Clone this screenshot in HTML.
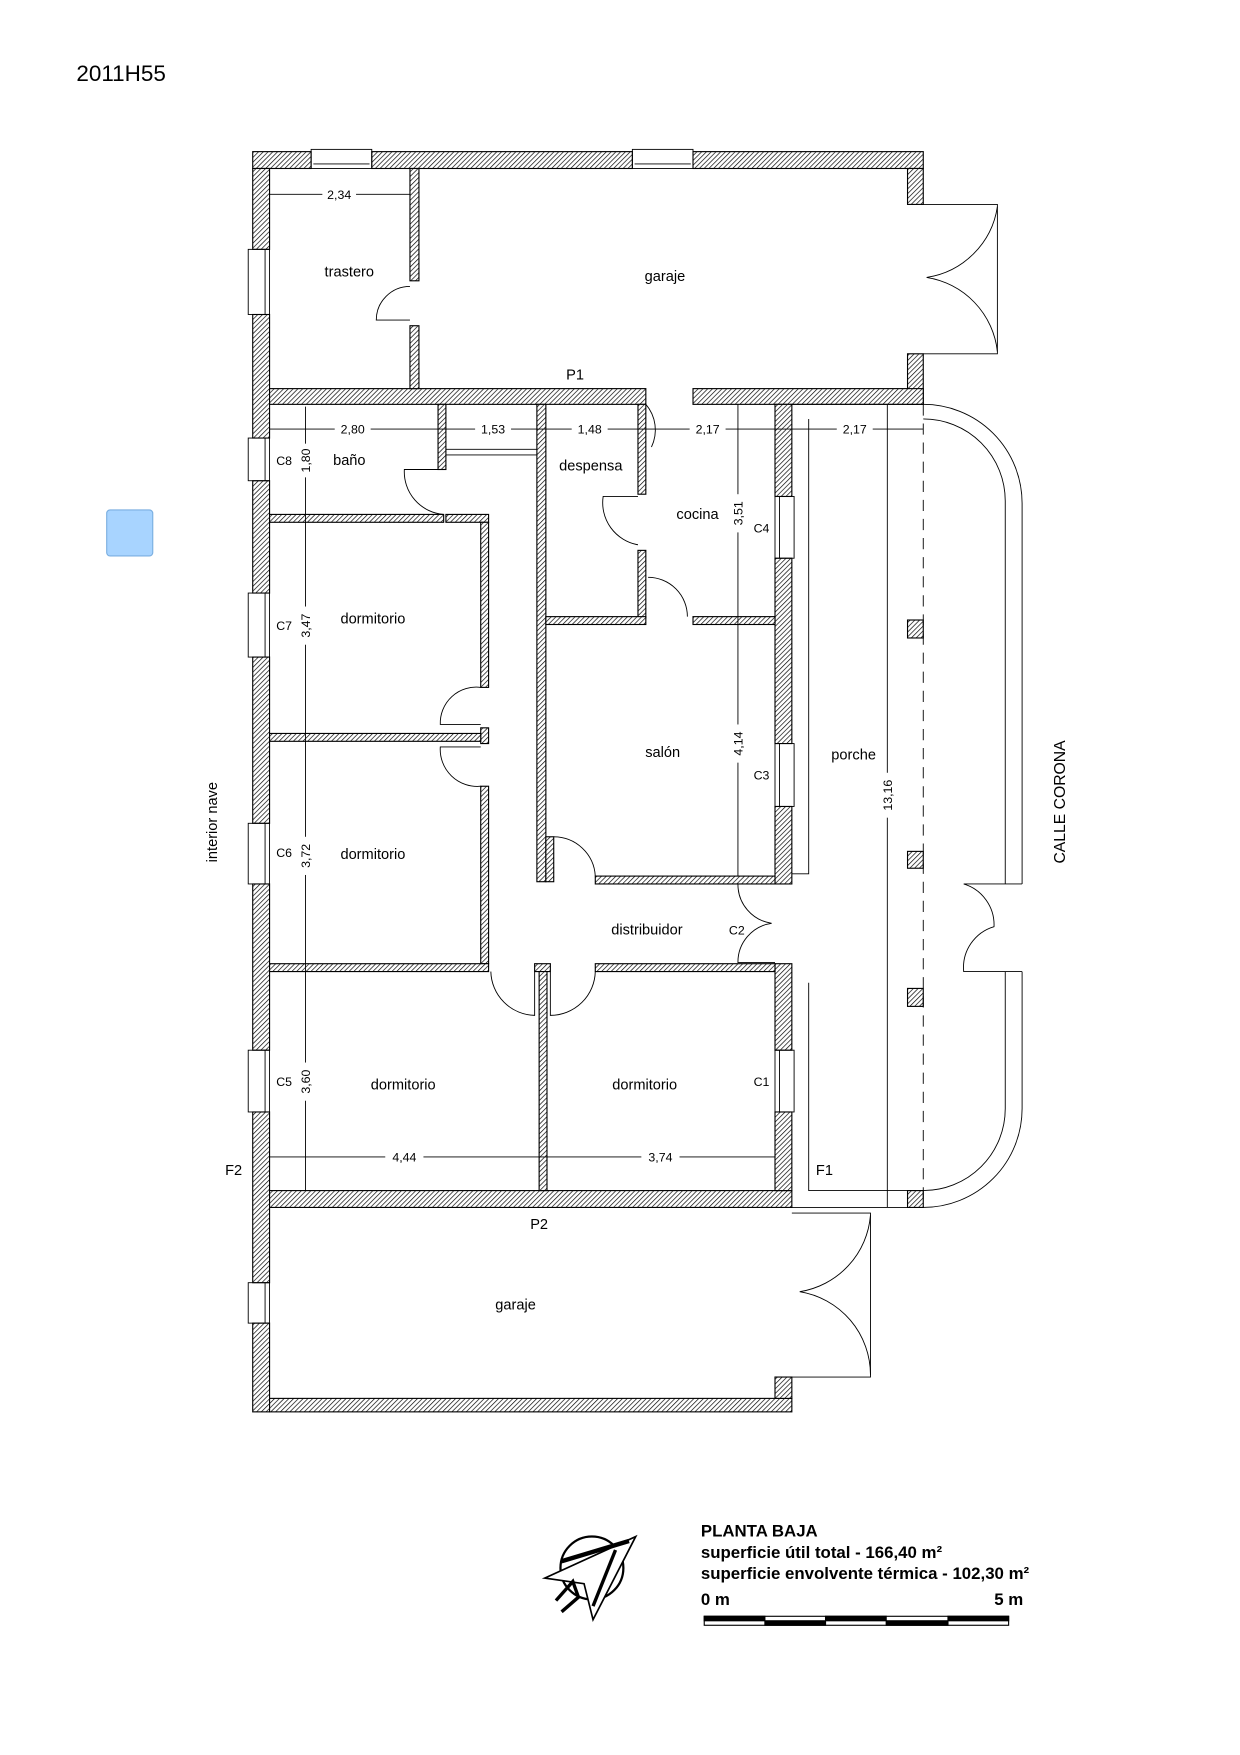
<!DOCTYPE html>
<html><head><meta charset="utf-8"><style>
html,body{margin:0;padding:0;background:#fff}
svg{display:block}
text{font-family:"Liberation Sans",sans-serif;fill:#000}
</style></head><body>
<svg width="1240" height="1755" viewBox="0 0 1104 1562.5" preserveAspectRatio="none" xmlns="http://www.w3.org/2000/svg">
<defs>
<pattern id="h" width="3" height="3" patternUnits="userSpaceOnUse" patternTransform="rotate(45)">
<rect width="3" height="3" fill="#fff"/><line x1="0" y1="0" x2="0" y2="3" stroke="#000" stroke-width="1.2"/>
</pattern>
</defs>
<text x="68" y="72" font-size="20">2011H55</text>
<rect x="95" y="454" width="41" height="41" rx="3" fill="#a8d4ff" stroke="#7aaee0"/>

<g fill="url(#h)" stroke="#000" stroke-width="1">
<rect x="225" y="135" width="52" height="15"/>
<rect x="331" y="135" width="232" height="15"/>
<rect x="617" y="135" width="205" height="15"/>
<rect x="808" y="150" width="14" height="32"/>
<rect x="808" y="315" width="14" height="45"/>
<rect x="225" y="150" width="15" height="72"/>
<rect x="225" y="280" width="15" height="110"/>
<rect x="225" y="428" width="15" height="100"/>
<rect x="225" y="585" width="15" height="148"/>
<rect x="225" y="787" width="15" height="148"/>
<rect x="225" y="990" width="15" height="152"/>
<rect x="225" y="1178" width="15" height="79"/>
<rect x="240" y="1245" width="465" height="12"/>
<rect x="690" y="1226" width="15" height="19"/>
<rect x="240" y="1060" width="465" height="15"/>
<rect x="240" y="346" width="335" height="14"/>
<rect x="617" y="346" width="205" height="14"/>
<rect x="365" y="150" width="8" height="100"/>
<rect x="365" y="290" width="8" height="56"/>
<rect x="690" y="360" width="15" height="82"/>
<rect x="690" y="497" width="15" height="165"/>
<rect x="690" y="718" width="15" height="69"/>
<rect x="690" y="858" width="15" height="77"/>
<rect x="690" y="990" width="15" height="70"/>
<rect x="390" y="360" width="7" height="58"/>
<rect x="240" y="458" width="155" height="7"/>
<rect x="397" y="458" width="38" height="7"/>
<rect x="428" y="465" width="7" height="147"/>
<rect x="428" y="648" width="7" height="14"/>
<rect x="428" y="700" width="7" height="158"/>
<rect x="240" y="653" width="188" height="7"/>
<rect x="240" y="858" width="195" height="7"/>
<rect x="530" y="858" width="160" height="7"/>
<rect x="476" y="858" width="14" height="7"/>
<rect x="480" y="865" width="7" height="195"/>
<rect x="478" y="360" width="8" height="425"/>
<rect x="568" y="360" width="7" height="80"/>
<rect x="568" y="490" width="7" height="60"/>
<rect x="486" y="549" width="89" height="7"/>
<rect x="617" y="549" width="73" height="7"/>
<rect x="530" y="780" width="160" height="7"/>
<rect x="486" y="745" width="7" height="40"/>
<rect x="808" y="552" width="14" height="16"/>
<rect x="808" y="758" width="14" height="15"/>
<rect x="808" y="880" width="14" height="16"/>
<rect x="808" y="1060" width="14" height="15"/>
</g>

<g fill="none" stroke="#000" stroke-width="0.8">
<rect x="277" y="133" width="54" height="17"/><line x1="279" y1="146" x2="329" y2="146"/>
<rect x="563" y="133" width="54" height="17"/><line x1="565" y1="146" x2="615" y2="146"/>
<rect x="221" y="222" width="19" height="58"/><line x1="236" y1="222" x2="236" y2="280"/>
<rect x="221" y="390" width="19" height="38"/><line x1="236" y1="390" x2="236" y2="428"/>
<rect x="221" y="528" width="19" height="57"/><line x1="236" y1="528" x2="236" y2="585"/>
<rect x="221" y="733" width="19" height="54"/><line x1="236" y1="733" x2="236" y2="787"/>
<rect x="221" y="935" width="19" height="55"/><line x1="236" y1="935" x2="236" y2="990"/>
<rect x="221" y="1142" width="19" height="36"/><line x1="236" y1="1142" x2="236" y2="1178"/>
<rect x="690" y="442" width="17" height="55"/><line x1="694" y1="442" x2="694" y2="497"/>
<rect x="690" y="662" width="17" height="56"/><line x1="694" y1="662" x2="694" y2="718"/>
<rect x="690" y="935" width="17" height="55"/><line x1="694" y1="935" x2="694" y2="990"/>
<line x1="397" y1="400" x2="478" y2="400"/><line x1="397" y1="405" x2="478" y2="405"/>
<path d="M822 182 H888 V315 H822"/>
<path d="M888 184 A75 75 0 0 1 825 247 A75 75 0 0 1 888 313"/>
<path d="M365 255 A30 30 0 0 0 335 285 H365"/>
<path d="M575 360 A35 35 0 0 1 580 398"/>
<path d="M397 418 H360 A38 38 0 0 0 395 458"/>
<path d="M568 442 H537 A38 38 0 0 0 568 485"/>
<path d="M577 514 A35 35 0 0 1 612 549"/>
<path d="M428 612 A32 32 0 0 0 392 645 H428"/>
<path d="M428 665 H392 A33 33 0 0 0 428 700"/>
<path d="M493 745 A37 37 0 0 1 530 780"/>
<path d="M690 787 H657 A35 35 0 0 0 687 822 A35 35 0 0 0 657 857 H690"/>
<path d="M437 865 A40 40 0 0 0 476 904 V865"/>
<path d="M490 865 V904 A40 40 0 0 0 530 865"/>
<path d="M705 1080 H775 V1226 H705"/>
<path d="M775 1082 A75 75 0 0 1 712 1150 A75 75 0 0 1 775 1224"/>
<path d="M705 360 H822 A88 88 0 0 1 910 448 V787"/>
<path d="M910 865 V987 A88 88 0 0 1 822 1075 H705"/>
<path d="M720 373 V778 H705"/>
<path d="M720 875 V1060 H822 A73 73 0 0 0 895 987 V865"/>
<path d="M822 373 A73 73 0 0 1 895 446 V787"/>
<path d="M910 787 H858 A38 38 0 0 1 885 825 A38 38 0 0 0 858 865 H910"/>
<line x1="822" y1="360" x2="822" y2="1075" stroke-dasharray="10 7"/>
<line x1="240" y1="173" x2="365" y2="173"/>
<line x1="240" y1="382" x2="822" y2="382"/>
<line x1="272" y1="362" x2="272" y2="1060"/>
<line x1="657" y1="360" x2="657" y2="780"/>
<line x1="790" y1="360" x2="790" y2="1075"/>
<line x1="240" y1="1030" x2="690" y2="1030"/>
</g>
<g font-size="11" text-anchor="middle">
<rect x="287" y="166" width="30" height="14" fill="#fff"/><text x="302" y="177">2,34</text>
<rect x="298" y="375" width="32" height="14" fill="#fff"/><text x="314" y="386">2,80</text>
<rect x="423" y="375" width="32" height="14" fill="#fff"/><text x="439" y="386">1,53</text>
<rect x="509" y="375" width="32" height="14" fill="#fff"/><text x="525" y="386">1,48</text>
<rect x="614" y="375" width="32" height="14" fill="#fff"/><text x="630" y="386">2,17</text>
<rect x="745" y="375" width="32" height="14" fill="#fff"/><text x="761" y="386">2,17</text>
<rect x="343" y="1023" width="34" height="14" fill="#fff"/><text x="360" y="1034">4,44</text>
<rect x="571" y="1023" width="34" height="14" fill="#fff"/><text x="588" y="1034">3,74</text>
<g fill="#fff"><rect x="264" y="395" width="16" height="30"/><rect x="264" y="540" width="16" height="34"/><rect x="264" y="745" width="16" height="34"/><rect x="264" y="946" width="16" height="34"/><rect x="649" y="440" width="16" height="34"/><rect x="649" y="645" width="16" height="34"/><rect x="782" y="688" width="16" height="40"/></g>
<text transform="translate(276,410) rotate(-90)">1,80</text>
<text transform="translate(276,557) rotate(-90)">3,47</text>
<text transform="translate(276,762) rotate(-90)">3,72</text>
<text transform="translate(276,963) rotate(-90)">3,60</text>
<text transform="translate(661,457) rotate(-90)">3,51</text>
<text transform="translate(661,662) rotate(-90)">4,14</text>
<text transform="translate(794,708) rotate(-90)">13,16</text>
</g>
<g font-size="13" text-anchor="middle">
<text x="311" y="246">trastero</text>
<text x="592" y="250">garaje</text>
<text x="512" y="338">P1</text>
<text x="311" y="414">baño</text>
<text x="526" y="419">despensa</text>
<text x="621" y="462">cocina</text>
<text x="332" y="555">dormitorio</text>
<text x="590" y="674">salón</text>
<text x="760" y="676">porche</text>
<text x="332" y="765">dormitorio</text>
<text x="576" y="832">distribuidor</text>
<text x="359" y="970">dormitorio</text>
<text x="574" y="970">dormitorio</text>
<text x="480" y="1094">P2</text>
<text x="459" y="1166">garaje</text>
<text x="208" y="1046">F2</text>
<text x="734" y="1046">F1</text>
<text transform="translate(193,732) rotate(-90)">interior nave</text>
<text transform="translate(948,714) rotate(-90)" font-size="14">CALLE CORONA</text>
</g>
<g font-size="11" text-anchor="middle">
<text x="253" y="414">C8</text>
<text x="253" y="561">C7</text>
<text x="253" y="763">C6</text>
<text x="253" y="967">C5</text>
<text x="678" y="474">C4</text>
<text x="678" y="694">C3</text>
<text x="656" y="832">C2</text>
<text x="678" y="967">C1</text>
</g>
<g fill="none" stroke="#000" stroke-width="2">
<circle cx="527" cy="1396" r="28"/>
<path d="M485 1405 L566 1368 L528 1442 L520 1410 Z" fill="#fff" stroke-width="1.5"/>
<path d="M500 1390 L560 1372" stroke-width="4"/>
<path d="M548 1380 L528 1430" stroke-width="3"/>
<path d="M495 1425 L510 1408 L515 1422 L500 1435" stroke-width="3"/>
</g>
<g font-size="15" font-weight="bold">
<text x="624" y="1368">PLANTA BAJA</text>
<text x="624" y="1387">superficie útil total - 166,40 m²</text>
<text x="624" y="1406">superficie envolvente térmica - 102,30 m²</text>
<text x="624" y="1429">0 m</text>
<text x="911" y="1429" text-anchor="end">5 m</text>
</g>
<g stroke="#000" stroke-width="1">
<rect x="627" y="1439" width="271" height="8" fill="#fff"/>
<rect x="627" y="1439" width="54" height="4" fill="#000"/>
<rect x="681" y="1443" width="54" height="4" fill="#000"/>
<rect x="735" y="1439" width="54" height="4" fill="#000"/>
<rect x="789" y="1443" width="55" height="4" fill="#000"/>
<rect x="844" y="1439" width="54" height="4" fill="#000"/>
</g>
</svg>
</body></html>
